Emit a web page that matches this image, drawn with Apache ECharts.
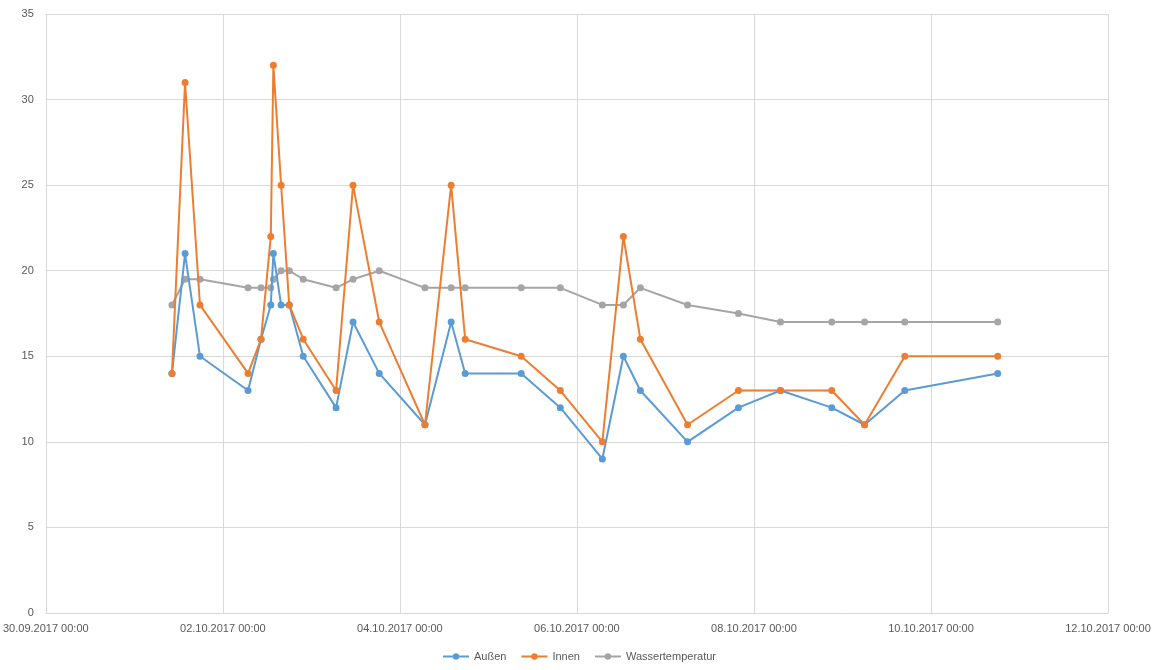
<!DOCTYPE html>
<html>
<head>
<meta charset="utf-8">
<script src="https://cdn.jsdelivr.net/npm/echarts@6/dist/echarts.min.js"></script>
<style>
  html, body { margin: 0; padding: 0; background: #fff; }
  #main { width: 1158px; height: 670px; }
</style>
</head>
<body>
<div id="main"></div>
<script>
// Messzeitpunkte (dd.MM.yyyy HH:mm)
var times = [
    '01.10.2017 10:12', '01.10.2017 13:45', '01.10.2017 17:48',
    '02.10.2017 06:50', '02.10.2017 10:21', '02.10.2017 13:00', '02.10.2017 13:42',
    '02.10.2017 15:48', '02.10.2017 18:00', '02.10.2017 21:48',
    '03.10.2017 06:42', '03.10.2017 11:18', '03.10.2017 18:24',
    '04.10.2017 06:48', '04.10.2017 13:54', '04.10.2017 17:42',
    '05.10.2017 08:54', '05.10.2017 19:30',
    '06.10.2017 06:54', '06.10.2017 12:36', '06.10.2017 17:12',
    '07.10.2017 06:00', '07.10.2017 19:48',
    '08.10.2017 07:12', '08.10.2017 21:06',
    '09.10.2017 06:00', '09.10.2017 16:54',
    '10.10.2017 18:06'
];
var aussen = [14, 21, 15, 13, 16, 18, 21, 18, 18, 15, 12, 17, 14, 11, 17, 14, 14, 12, 9, 15, 13, 10, 12, 13, 12, 11, 13, 14];
var innen = [14, 31, 18, 14, 16, 22, 32, 25, 18, 16, 13, 25, 17, 11, 25, 16, 15, 13, 10, 22, 16, 11, 13, 13, 13, 11, 15, 15];
var wasser = [18, 19.5, 19.5, 19, 19, 19, 19.5, 20, 20, 19.5, 19, 19.5, 20, 19, 19, 19, 19, 19, 18, 18, 19, 18, 17.5, 17, 17, 17, 17, 17];

var start = Date.UTC(2017, 8, 30);   // 30.09.2017 00:00

function toHours(s) {
    var d = s.split(' ')[0].split('.');
    var t = s.split(' ')[1].split(':');
    var ms = Date.UTC(+d[2], +d[1] - 1, +d[0], +t[0], +t[1]);
    return (ms - start) / 3600000;
}
function pad(n) { return (n < 10 ? '0' : '') + n; }
function fmt(h) {
    var d = new Date(start + h * 3600000);
    return pad(d.getUTCDate()) + '.' + pad(d.getUTCMonth() + 1) + '.' + d.getUTCFullYear() +
        ' ' + pad(d.getUTCHours()) + ':' + pad(d.getUTCMinutes());
}
function pairs(vals) {
    var out = [];
    for (var i = 0; i < times.length; i++) {
        out.push([toHours(times[i]), vals[i]]);
    }
    return out;
}

var textColor = '#595959';
var gridColor = '#D9D9D9';

var myChart = echarts.init(document.getElementById('main'));
var option = {
    animation: false,
    textStyle: { fontFamily: 'Liberation Sans, sans-serif' },
    grid: { left: 45, right: 50, top: 14, bottom: 57 },
    legend: {
        bottom: 3,
        left: 'center',
        itemWidth: 26,
        itemHeight: 8,
        itemGap: 14,
        textStyle: { color: textColor, fontSize: 11 },
        data: ['Außen', 'Innen', 'Wassertemperatur']
    },
    xAxis: {
        type: 'value',
        min: 0,
        max: 288,
        interval: 48,
        axisLine: { lineStyle: { color: gridColor } },
        axisTick: { show: false },
        splitLine: { show: true, lineStyle: { color: gridColor } },
        axisLabel: {
            color: textColor,
            fontSize: 11,
            margin: 10,
            formatter: fmt
        }
    },
    yAxis: {
        type: 'value',
        min: 0,
        max: 35,
        interval: 5,
        axisLine: { show: false },
        axisTick: { show: false },
        splitLine: { lineStyle: { color: gridColor } },
        axisLabel: { color: textColor, fontSize: 11, margin: 12 }
    },
    series: [
        {
            name: 'Außen', type: 'line', data: pairs(aussen),
            symbol: 'circle', symbolSize: 7,
            itemStyle: { color: '#5B9BD5' },
            lineStyle: { width: 2, color: '#5B9BD5' }
        },
        {
            name: 'Innen', type: 'line', data: pairs(innen),
            symbol: 'circle', symbolSize: 7,
            itemStyle: { color: '#ED7D31' },
            lineStyle: { width: 2, color: '#ED7D31' }
        },
        {
            name: 'Wassertemperatur', type: 'line', data: pairs(wasser),
            symbol: 'circle', symbolSize: 7,
            itemStyle: { color: '#A5A5A5' },
            lineStyle: { width: 2, color: '#A5A5A5' },
            z: 1
        }
    ]
};
myChart.setOption(option);
</script>
</body>
</html>
